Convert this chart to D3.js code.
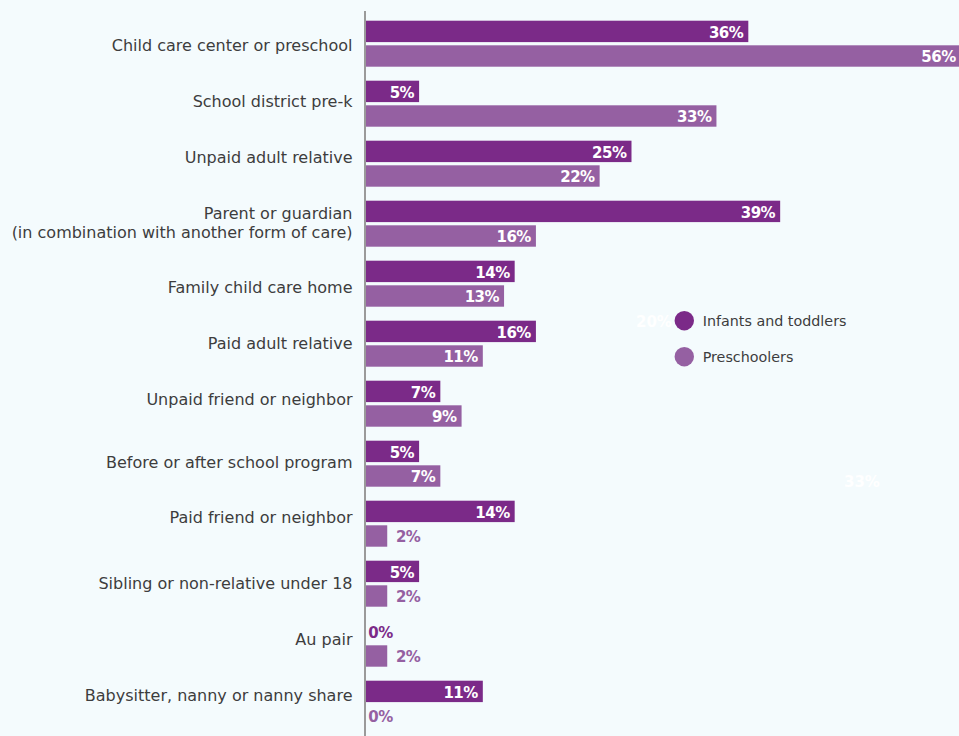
<!DOCTYPE html>
<html>
<head>
<meta charset="utf-8">
<script src="https://cdn.jsdelivr.net/npm/d3@7"></script>
<style>
  html, body { margin: 0; padding: 0; background: #f4fbfd; }
  svg { display: block; }
</style>
</head>
<body>
<svg id="chart" width="959" height="736"></svg>
<script>
// Care arrangements used, by age group (% of families)
const categories = [
  "Child care center or preschool",
  "School district pre-k",
  "Unpaid adult relative",
  "Parent or guardian\n(in combination with another form of care)",
  "Family child care home",
  "Paid adult relative",
  "Unpaid friend or neighbor",
  "Before or after school program",
  "Paid friend or neighbor",
  "Sibling or non-relative under 18",
  "Au pair",
  "Babysitter, nanny or nanny share"
];
const infantsToddlers = [36, 5, 25, 39, 14, 16, 7, 5, 14, 5, 0, 11];
const preschoolers    = [56, 33, 22, 16, 13, 11, 9, 7, 2, 2, 2, 0];
const seriesNames = ["Infants and toddlers", "Preschoolers"];
const strayLabelText = ["20%", "33%"];

// layout
const seriesColors = ["#7b2a88", "#9560a2"];
const labelNudge = [0, -4, -8, -2.5, 2.7, -2, -6, -3, -7.3, -2, -6, -10];
const W = 959, H = 736;
const axisX = 366;
const fontFamily = "'DejaVu Sans', 'Open Sans', sans-serif";

const svg = d3.select("#chart");

const x = d3.scaleLinear().domain([0, 56]).range([axisX, axisX + 594.7]);
const y = d3.scaleBand().domain(d3.range(categories.length)).range([11, 731]);
const sub = d3.scaleBand().domain([0, 1]).range([9.7, 55.7]).paddingInner(0.13);

// category labels
const catG = svg.append("g");
categories.forEach((c, i) => {
  const lines = c.split("\n");
  const cy = y(i) + 34 + labelNudge[i];
  const t = catG.append("text")
    .attr("text-anchor", "end")
    .attr("font-family", fontFamily)
    .attr("font-size", 16)
    .attr("fill", "#3d3d3d");
  lines.forEach((ln, k) => {
    t.append("tspan")
      .attr("x", 352.5)
      .attr("y", cy + (k - (lines.length - 1) / 2) * 19.5)
      .attr("dy", "0.36em")
      .text(ln);
  });
});

// bars and value labels
const series = [infantsToddlers, preschoolers];
const barsG = svg.append("g");
series.forEach((vals, s) => {
  vals.forEach((v, i) => {
    const by = y(i) + sub(s);
    const bh = sub.bandwidth();
    barsG.append("rect")
      .attr("x", x(0))
      .attr("y", by)
      .attr("width", x(v) - x(0))
      .attr("height", bh)
      .attr("fill", seriesColors[s]);
    const inside = (x(v) - x(0)) > 40;
    barsG.append("text")
      .attr("x", inside ? x(v) - 5 : x(v) + (v === 0 ? 2.3 : 8.7))
      .attr("y", by + bh / 2 + 0.8)
      .attr("dy", "0.36em")
      .attr("text-anchor", inside ? "end" : "start")
      .attr("font-family", fontFamily)
      .attr("font-weight", 700)
      .attr("font-size", 15)
      .attr("letter-spacing", -0.5)
      .attr("fill", inside ? "#ffffff" : seriesColors[s])
      .text(v + "%");
  });
});

// stray white labels sitting on the background
svg.append("text")
  .attr("x", 636).attr("y", 321.7).attr("dy", "0.36em")
  .attr("font-family", fontFamily).attr("font-weight", 700).attr("font-size", 15)
  .attr("fill", "#ffffff").text(strayLabelText[0]);
svg.append("text")
  .attr("x", 844).attr("y", 481.7).attr("dy", "0.36em")
  .attr("font-family", fontFamily).attr("font-weight", 700).attr("font-size", 15)
  .attr("fill", "#ffffff").text(strayLabelText[1]);

// vertical axis line
svg.append("line")
  .attr("x1", axisX - 1).attr("x2", axisX - 1)
  .attr("y1", 11).attr("y2", H)
  .attr("stroke", "#9a9a9a")
  .attr("stroke-width", 2);

// legend
const legend = svg.append("g").attr("transform", "translate(684.3,320.7)");
seriesNames.forEach((n, i) => {
  const g = legend.append("g").attr("transform", `translate(0,${i * 36})`);
  g.append("circle").attr("r", 9.7).attr("fill", seriesColors[i]);
  g.append("text")
    .attr("x", 18.4)
    .attr("dy", "0.36em")
    .attr("font-family", fontFamily)
    .attr("font-size", 14.3)
    .attr("fill", "#3d3d3d")
    .text(n);
});
</script>
</body>
</html>
